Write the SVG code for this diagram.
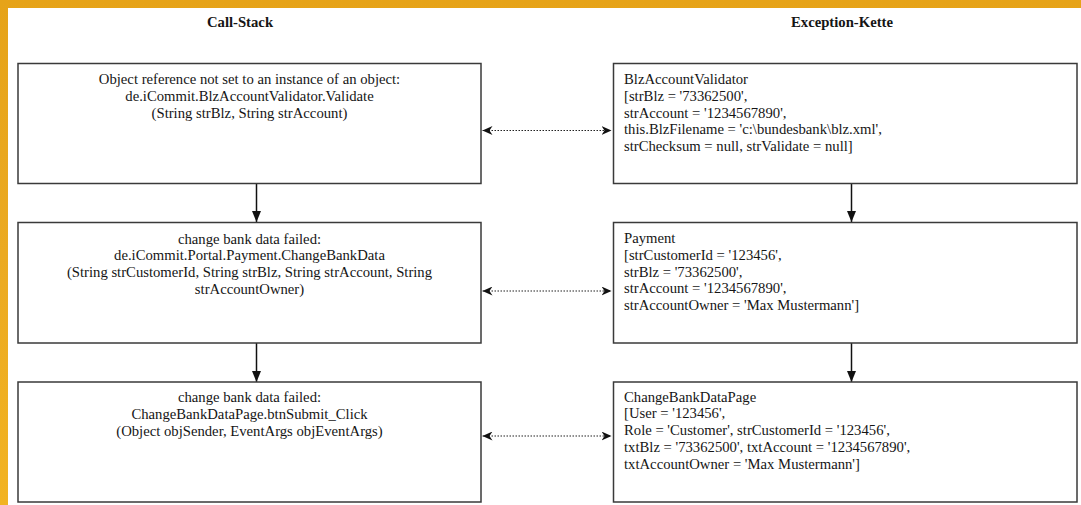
<svg xmlns="http://www.w3.org/2000/svg" width="1081" height="505" viewBox="0 0 1081 505">
<defs>
<linearGradient id="bg" x1="0" y1="0" x2="0" y2="1">
<stop offset="0" stop-color="#E6A318"/>
<stop offset="0.5" stop-color="#EBAA22"/>
<stop offset="1" stop-color="#F2B321"/>
</linearGradient>
<marker id="dh" viewBox="0 0 10 9" refX="10" refY="4.5" markerWidth="10" markerHeight="9" markerUnits="userSpaceOnUse" orient="auto-start-reverse">
<path d="M0,0 L10,4.5 L0,9 L3,4.5 z" fill="#111"/>
</marker>
<marker id="vh" viewBox="0 0 9 11" refX="4.5" refY="11" markerWidth="9" markerHeight="11" markerUnits="userSpaceOnUse" orient="0">
<path d="M0,0 L9,0 L4.5,11 z" fill="#111"/>
</marker>
<style>
.box{fill:#fff;stroke:#3a3a3a;stroke-width:1.5}
.t{font-family:"Liberation Serif","Times New Roman",serif;font-size:14.7px;fill:#151515}
.c{text-anchor:middle}
.h{font-weight:bold;text-anchor:middle}
.v{stroke:#111;stroke-width:1.5;fill:none}
.d{stroke:#222;stroke-width:1.2;stroke-dasharray:1.5 1.5;fill:none}
</style>
</defs>
<rect x="0" y="0" width="1081" height="505" fill="url(#bg)"/>
<rect x="8" y="8" width="1073" height="497" fill="#fff"/>
<text class="t h" x="240" y="27">Call-Stack</text>
<text class="t h" x="842" y="27">Exception-Kette</text>

<g id="connectors">
<line class="v" x1="256.5" y1="183.5" x2="256.5" y2="222" marker-end="url(#vh)"/>
<line class="v" x1="256.5" y1="343" x2="256.5" y2="382" marker-end="url(#vh)"/>
<line class="v" x1="851.5" y1="183.5" x2="851.5" y2="222" marker-end="url(#vh)"/>
<line class="v" x1="851.5" y1="343" x2="851.5" y2="382" marker-end="url(#vh)"/>
<line class="d" x1="482.5" y1="130.5" x2="611.5" y2="130.5" marker-start="url(#dh)" marker-end="url(#dh)"/>
<line class="d" x1="482.5" y1="291" x2="611.5" y2="291" marker-start="url(#dh)" marker-end="url(#dh)"/>
<line class="d" x1="482.5" y1="436" x2="611.5" y2="436" marker-start="url(#dh)" marker-end="url(#dh)"/>
</g>

<g id="cs1">
<rect class="box" x="18" y="63.5" width="463" height="120"/>
<text class="t c" x="249.5" y="84">Object reference not set to an instance of an object:</text>
<text class="t c" x="249.5" y="100.8">de.iCommit.BlzAccountValidator.Validate</text>
<text class="t c" x="249.5" y="117.6">(String strBlz, String strAccount)</text>
</g>
<g id="cs2">
<rect class="box" x="18" y="222.5" width="463" height="120.5"/>
<text class="t c" x="249.5" y="243.5">change bank data failed:</text>
<text class="t c" x="249.5" y="260.3">de.iCommit.Portal.Payment.ChangeBankData</text>
<text class="t c" x="249.5" y="277.1">(String strCustomerId, String strBlz, String strAccount, String</text>
<text class="t c" x="249.5" y="293.9">strAccountOwner)</text>
</g>
<g id="cs3">
<rect class="box" x="18" y="382" width="463" height="120"/>
<text class="t c" x="249.5" y="402">change bank data failed:</text>
<text class="t c" x="249.5" y="418.8">ChangeBankDataPage.btnSubmit_Click</text>
<text class="t c" x="249.5" y="435.6">(Object objSender, EventArgs objEventArgs)</text>
</g>

<g id="ex1">
<rect class="box" x="613.5" y="63.5" width="463.5" height="120"/>
<text class="t" x="624" y="84">BlzAccountValidator</text>
<text class="t" x="624" y="100.8">[strBlz = '73362500',</text>
<text class="t" x="624" y="117.6">strAccount = '1234567890',</text>
<text class="t" x="624" y="134.4">this.BlzFilename = 'c:\bundesbank\blz.xml',</text>
<text class="t" x="624" y="151.2">strChecksum = null, strValidate = null]</text>
</g>
<g id="ex2">
<rect class="box" x="613.5" y="222.5" width="463.5" height="120.5"/>
<text class="t" x="624" y="243">Payment</text>
<text class="t" x="624" y="259.8">[strCustomerId = '123456',</text>
<text class="t" x="624" y="276.6">strBlz = '73362500',</text>
<text class="t" x="624" y="293.4">strAccount = '1234567890',</text>
<text class="t" x="624" y="310.2">strAccountOwner = 'Max Mustermann']</text>
</g>
<g id="ex3">
<rect class="box" x="613.5" y="382" width="463.5" height="120"/>
<text class="t" x="624" y="401.5">ChangeBankDataPage</text>
<text class="t" x="624" y="418.3">[User = '123456',</text>
<text class="t" x="624" y="435.1">Role = 'Customer', strCustomerId = '123456',</text>
<text class="t" x="624" y="451.9">txtBlz = '73362500', txtAccount = '1234567890',</text>
<text class="t" x="624" y="468.7">txtAccountOwner = 'Max Mustermann']</text>
</g>
</svg>
